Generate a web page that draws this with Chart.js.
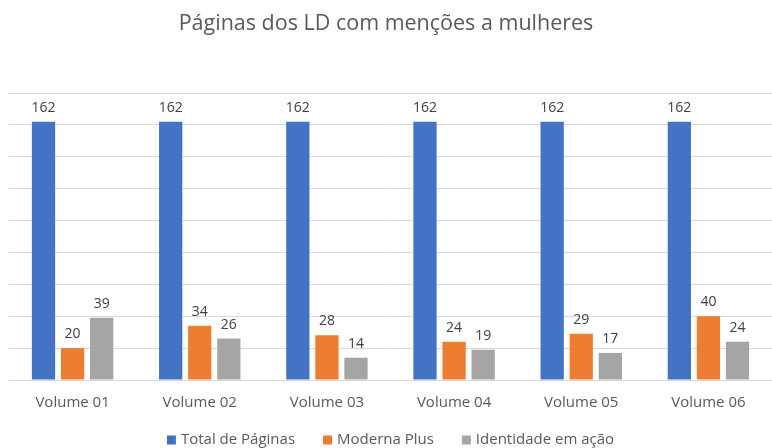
<!DOCTYPE html>
<html>
<head>
<meta charset="utf-8">
<script src="https://cdn.jsdelivr.net/npm/chart.js@4"></script>
<style>
  html, body { margin: 0; padding: 0; background: #fff; }
  #wrap { width: 772px; height: 448px; }
</style>
</head>
<body>
<div id="wrap"><canvas id="myChart" width="772" height="448"></canvas></div>
<script>
// Dados
let titulo = 'Páginas dos LD com menções a mulheres';
let categorias = ['Volume 01', 'Volume 02', 'Volume 03', 'Volume 04', 'Volume 05', 'Volume 06'];
let totalPaginas = [162, 162, 162, 162, 162, 162];
let modernaPlus = [20, 34, 28, 24, 29, 40];
let identidade = [39, 26, 14, 19, 17, 24];

let fonte = '"Open Sans", Lato, sans-serif';
let ctx = document.querySelector('#myChart').getContext('2d');

// rótulos de valor, título e legenda desenhados à mão
let extras = {
  id: 'extras',
  afterDatasetsDraw(chart) {
    let c = chart.ctx;
    c.save();
    c.font = '14px ' + fonte;
    c.fillStyle = '#404040';
    c.textAlign = 'center';
    c.textBaseline = 'bottom';
    chart.data.datasets.forEach((ds, i) => {
      chart.getDatasetMeta(i).data.forEach((bar, j) => {
        c.fillText(ds.data[j], bar.x, bar.y - 7);
      });
    });
    c.restore();
  },
  afterDraw(chart) {
    let c = chart.ctx;
    c.save();
    // título
    c.font = '21.5px ' + fonte;
    c.fillStyle = '#595959';
    c.textAlign = 'center';
    c.textBaseline = 'middle';
    c.fillText(titulo, chart.width / 2, 24);
    // legenda
    c.font = '15px ' + fonte;
    c.textAlign = 'left';
    let box = 9, gapTexto = 5, gapItem = 28;
    let itens = chart.data.datasets.map(ds => ({ txt: ds.label, cor: ds.backgroundColor, w: c.measureText(ds.label).width }));
    let total = itens.reduce((s, it) => s + box + gapTexto + it.w, 0) + gapItem * (itens.length - 1);
    let area = chart.chartArea;
    let x = (area.left + area.right) / 2 - total / 2;
    let y = 440;
    itens.forEach(it => {
      c.fillStyle = it.cor;
      c.fillRect(x, y - box / 2, box, box);
      c.fillStyle = '#595959';
      c.fillText(it.txt, x + box + gapTexto, y);
      x += box + gapTexto + it.w + gapItem;
    });
    c.restore();
  }
};

let config = {
  type: 'bar',
  data: {
    labels: categorias,
    datasets: [
      { label: 'Total de Páginas', data: totalPaginas, backgroundColor: '#4472C4' },
      { label: 'Moderna Plus', data: modernaPlus, backgroundColor: '#ED7D31' },
      { label: 'Identidade em ação', data: identidade, backgroundColor: '#A5A5A5' }
    ]
  },
  options: {
    responsive: false,
    animation: false,
    categoryPercentage: 0.686,
    barPercentage: 0.8,
    layout: { padding: { left: 9, right: -12, top: 93, bottom: 30 } },
    scales: {
      x: {
        grid: { display: false },
        border: { color: '#d9d9d9' },
        ticks: { color: '#595959', font: { family: fonte, size: 15 }, padding: 6 }
      },
      y: {
        min: 0,
        max: 180,
        ticks: { display: false, stepSize: 20 },
        border: { display: false },
        grid: { color: '#d9d9d9', drawTicks: false }
      }
    },
    plugins: {
      title: { display: false },
      legend: { display: false },
      tooltip: { enabled: false }
    }
  },
  plugins: [extras]
};

let chart = new Chart(ctx, config);
</script>
</body>
</html>
